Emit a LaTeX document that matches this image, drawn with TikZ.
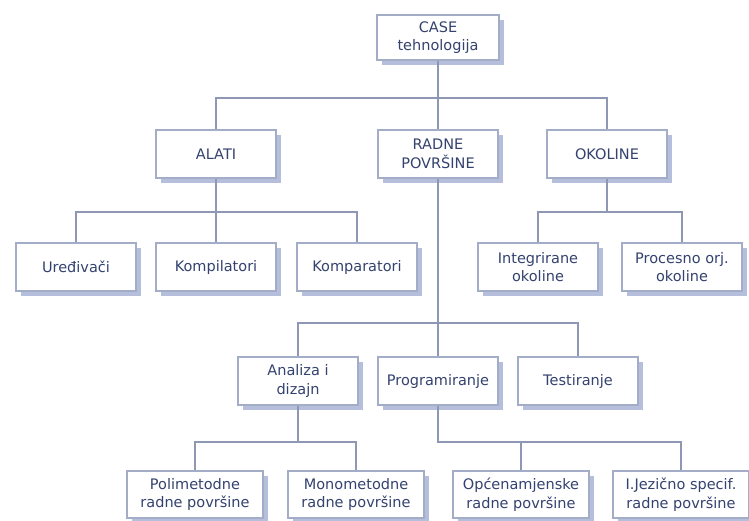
\documentclass[tikz,border=0pt]{standalone}
\usepackage{fontspec}
\setmainfont{DejaVu Sans}
\usetikzlibrary{shadows}
\definecolor{txtcol}{HTML}{34426F}
\definecolor{linecol}{HTML}{8E98B4}
\definecolor{boxline}{HTML}{A4ADC8}
\definecolor{shadcol}{HTML}{B5BEDA}
\tikzset{
  box/.style={draw=boxline, line width=1.2pt, fill=white, text=txtcol,
    align=center, inner sep=0pt, minimum width=120pt, minimum height=48pt,
    font=\fontsize{14.5}{18.5}\selectfont,
    drop shadow={shadow xshift=5pt, shadow yshift=-5pt, fill=shadcol, opacity=1}},
  widebox/.style={box, minimum width=136pt, minimum height=47pt},
  conn/.style={draw=linecol, line width=1.1pt}
}
\begin{document}
\begin{tikzpicture}[x=1pt,y=-1pt]
\useasboundingbox (0,0) rectangle (749,520);
% top
\node[box, minimum width=122pt, minimum height=45pt] (case) at (438,37.5) {CASE\\tehnologija};
% level 1
\node[box] (alati) at (216,154) {ALATI};
\node[box] (radne) at (438,154) {RADNE\\POVRŠINE};
\node[box] (okoline) at (607,154) {OKOLINE};
% level 2
\node[box] (ured) at (76,267) {Uređivači};
\node[box] (kompil) at (216,267) {Kompilatori};
\node[box] (kompar) at (357,267) {Komparatori};
\node[box] (integ) at (538,267) {Integrirane\\okoline};
\node[box] (proc) at (682,267) {Procesno orj.\\okoline};
% level 3
\node[box] (anal) at (298,381) {Analiza i\\dizajn};
\node[box] (prog) at (438,381) {Programiranje};
\node[box] (test) at (578,381) {Testiranje};
% level 4
\node[widebox] (poli) at (195,494.5) {Polimetodne\\radne površine};
\node[widebox] (mono) at (356,494.5) {Monometodne\\radne površine};
\node[widebox] (opc) at (521,494.5) {Općenamjenske\\radne površine};
\node[widebox] (ijez) at (681,494.5) {I.Jezično specif.\\radne površine};
% bus levels
\coordinate (b1) at (0,98);
\coordinate (b2) at (0,212);
\coordinate (b3) at (0,323);
\coordinate (b4) at (0,442);
% connectors
\draw[conn] (case.south) |- (alati.north |- b1) -- (alati.north);
\draw[conn] (case.south) -- (radne.north);
\draw[conn] (case.south) |- (okoline.north |- b1) -- (okoline.north);
\draw[conn] (alati.south) |- (ured.north |- b2) -- (ured.north);
\draw[conn] (alati.south) -- (kompil.north);
\draw[conn] (alati.south) |- (kompar.north |- b2) -- (kompar.north);
\draw[conn] (okoline.south) |- (integ.north |- b2) -- (integ.north);
\draw[conn] (okoline.south) |- (proc.north |- b2) -- (proc.north);
\draw[conn] (radne.south) |- (anal.north |- b3) -- (anal.north);
\draw[conn] (radne.south) -- (prog.north);
\draw[conn] (radne.south) |- (test.north |- b3) -- (test.north);
\draw[conn] (anal.south) |- (poli.north |- b4) -- (poli.north);
\draw[conn] (anal.south) |- (mono.north |- b4) -- (mono.north);
\draw[conn] (prog.south) |- (opc.north |- b4) -- (opc.north);
\draw[conn] (prog.south) |- (ijez.north |- b4) -- (ijez.north);
\end{tikzpicture}
\end{document}
